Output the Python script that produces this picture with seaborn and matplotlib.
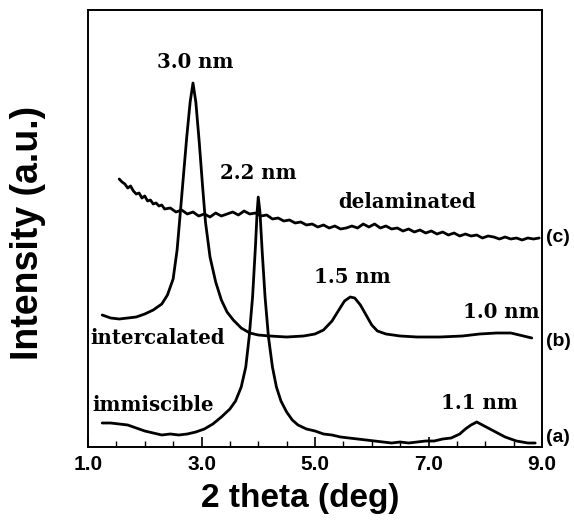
import pandas as pd
import matplotlib
matplotlib.use("Agg")
import matplotlib.pyplot as plt
from matplotlib.ticker import MultipleLocator
import seaborn as sns

# ---------------------------------------
# Data
# ---------------------------------------
theta_a = [1.25, 1.4, 1.55, 1.7, 1.85, 2.0, 2.15, 2.3, 2.45, 2.6, 2.75, 2.9, 3.05, 3.2,
           3.35, 3.5, 3.6, 3.7, 3.78, 3.84, 3.9, 3.95, 3.98, 4.0, 4.03, 4.07, 4.12, 4.18,
           4.25, 4.32, 4.4, 4.5, 4.6, 4.7, 4.85, 5.0, 5.15, 5.3, 5.45, 5.6, 5.75, 5.9,
           6.05, 6.2, 6.35, 6.5, 6.65, 6.8, 6.95, 7.1, 7.25, 7.4, 7.55, 7.65, 7.75, 7.85,
           7.95, 8.05, 8.15, 8.25, 8.35, 8.45, 8.55, 8.65, 8.75, 8.88]
int_a = [24, 24, 23, 22, 19, 16, 14, 12, 13, 12, 13, 15, 18, 23,
         30, 38, 46, 60, 80, 110, 150, 200, 235, 250, 235, 195, 150, 110,
         80, 60, 46, 35, 27, 22, 18, 16, 13, 12, 10, 9, 8, 7,
         6, 5, 4, 5, 4, 5, 6, 6, 8, 9, 13, 18, 22, 25,
         22, 19, 16, 13, 10, 8, 6, 5, 4, 4]

theta_b = [1.25, 1.4, 1.55, 1.7, 1.85, 2.0, 2.15, 2.3, 2.4, 2.5, 2.57, 2.62, 2.68, 2.74,
           2.8, 2.85, 2.9, 2.96, 3.02, 3.07, 3.15, 3.25, 3.35, 3.45, 3.56, 3.7, 3.85, 4.0,
           4.2, 4.5, 4.8, 5.0, 5.15, 5.3, 5.42, 5.52, 5.62, 5.7, 5.8, 5.9, 6.0, 6.1,
           6.25, 6.5, 6.8, 7.2, 7.6, 7.9, 8.2, 8.45, 8.6, 8.82]
int_b = [132, 129, 128, 129, 130, 133, 137, 143, 152, 168, 197, 230, 270, 310,
         345, 364, 345, 305, 260, 225, 190, 165, 147, 135, 127, 119, 114, 112,
         111, 110, 111, 113, 117, 126, 137, 146, 150, 149, 142, 132, 122, 116,
         113, 111, 110, 110, 111, 113, 114, 114, 112, 109]

theta_c = [1.55, 1.6, 1.65, 1.7, 1.75, 1.8, 1.85, 1.9, 1.95, 2.0, 2.05, 2.1, 2.15, 2.2,
           2.25, 2.3, 2.35, 2.45, 2.55, 2.65, 2.75, 2.85, 2.95, 3.05, 3.15, 3.25, 3.35,
           3.45, 3.55, 3.65, 3.75, 3.85, 3.95, 4.05, 4.15, 4.25, 4.35, 4.45, 4.55, 4.65,
           4.75, 4.85, 4.95, 5.05, 5.15, 5.25, 5.35, 5.45, 5.55, 5.65, 5.75, 5.85, 5.95,
           6.05, 6.15, 6.25, 6.35, 6.45, 6.55, 6.65, 6.75, 6.85, 6.95, 7.05, 7.15, 7.25,
           7.35, 7.45, 7.55, 7.65, 7.75, 7.85, 7.95, 8.05, 8.15, 8.25, 8.35, 8.45, 8.55,
           8.65, 8.75, 8.85, 8.95]
int_c = [268, 265, 263, 259, 261, 256, 253, 254, 249, 251, 246, 247, 243, 244,
         241, 242, 238, 239, 235, 237, 233, 235, 231, 233, 230, 234, 231,
         233, 235, 232, 236, 233, 234, 231, 232, 228, 229, 226, 227, 224,
         225, 222, 223, 220, 222, 219, 221, 218, 219, 221, 219, 223, 220,
         223, 219, 221, 218, 219, 216, 218, 215, 217, 214, 216, 213, 215,
         212, 214, 211, 213, 211, 212, 209, 211, 210, 208, 210, 208, 209,
         207, 209, 208, 209]

x_ticks = [1.0, 3.0, 5.0, 7.0, 9.0]
tick_labels = ["1.0", "3.0", "5.0", "7.0", "9.0"]

df_a = pd.DataFrame({"theta": theta_a, "intensity": int_a})
df_b = pd.DataFrame({"theta": theta_b, "intensity": int_b})
df_c = pd.DataFrame({"theta": theta_c, "intensity": int_c})

sns.set_style("ticks", {"axes.edgecolor": "black", "text.color": "black",
                        "axes.labelcolor": "black", "xtick.color": "black"})
plt.rcParams["font.family"] = ["Liberation Sans", "DejaVu Sans"]

fig = plt.figure(figsize=(5.74, 5.22), dpi=100)
ax = fig.add_axes([88 / 574, 75 / 522, 454 / 574, 437 / 522])

for d in (df_a, df_b, df_c):
    sns.lineplot(data=d, x="theta", y="intensity", color="black", lw=2.0,
                 estimator=None, ax=ax)

ax.set_xlim(1.0, 9.0)
ax.set_ylim(0, 437)
ax.set_yticks([])
ax.set_xticks(x_ticks)
ax.set_xticklabels(tick_labels, fontsize=15, fontweight="bold")
ax.xaxis.set_minor_locator(MultipleLocator(0.5))
ax.tick_params(axis="x", which="major", direction="in", length=7, width=1.2, pad=6,
               colors="black")
ax.tick_params(axis="x", which="minor", direction="in", length=4, width=1.0,
               colors="black")
for s in ax.spines.values():
    s.set_linewidth(1.4)
    s.set_color("black")

ax.set_xlabel("2 theta (deg)", fontsize=24, fontweight="bold", color="black")
ax.set_ylabel("Intensity (a.u.)", fontsize=27, fontweight="bold", color="black")
ax.xaxis.set_label_coords(0.467, -0.083)
ax.yaxis.set_label_coords(-0.093, 0.49)

# peak / phase annotations
serif = dict(family="DejaVu Serif", fontweight="bold", fontsize=14.2, color="black")
ax.text(2.885, 385, "3.0 nm", ha="center", va="center", **serif)
ax.text(4.0, 274, "2.2 nm", ha="center", va="center", **serif)
ax.text(6.62, 245, "delaminated", ha="center", va="center", **serif)
ax.text(5.65, 170, "1.5 nm", ha="center", va="center", **serif)
ax.text(8.965, 135, "1.0 nm", ha="right", va="center", **serif)
ax.text(1.04, 109, "intercalated", ha="left", va="center", **serif)
ax.text(1.08, 42, "immiscible", ha="left", va="center", **serif)
ax.text(7.89, 44, "1.1 nm", ha="center", va="center", **serif)

for lab, yv in [("(c)", 210), ("(b)", 105), ("(a)", 9)]:
    ax.text(9.07, yv, lab, ha="left", va="center", fontsize=14, color="black",
            fontweight="bold", clip_on=False)

fig.savefig("out.png", dpi=100)
